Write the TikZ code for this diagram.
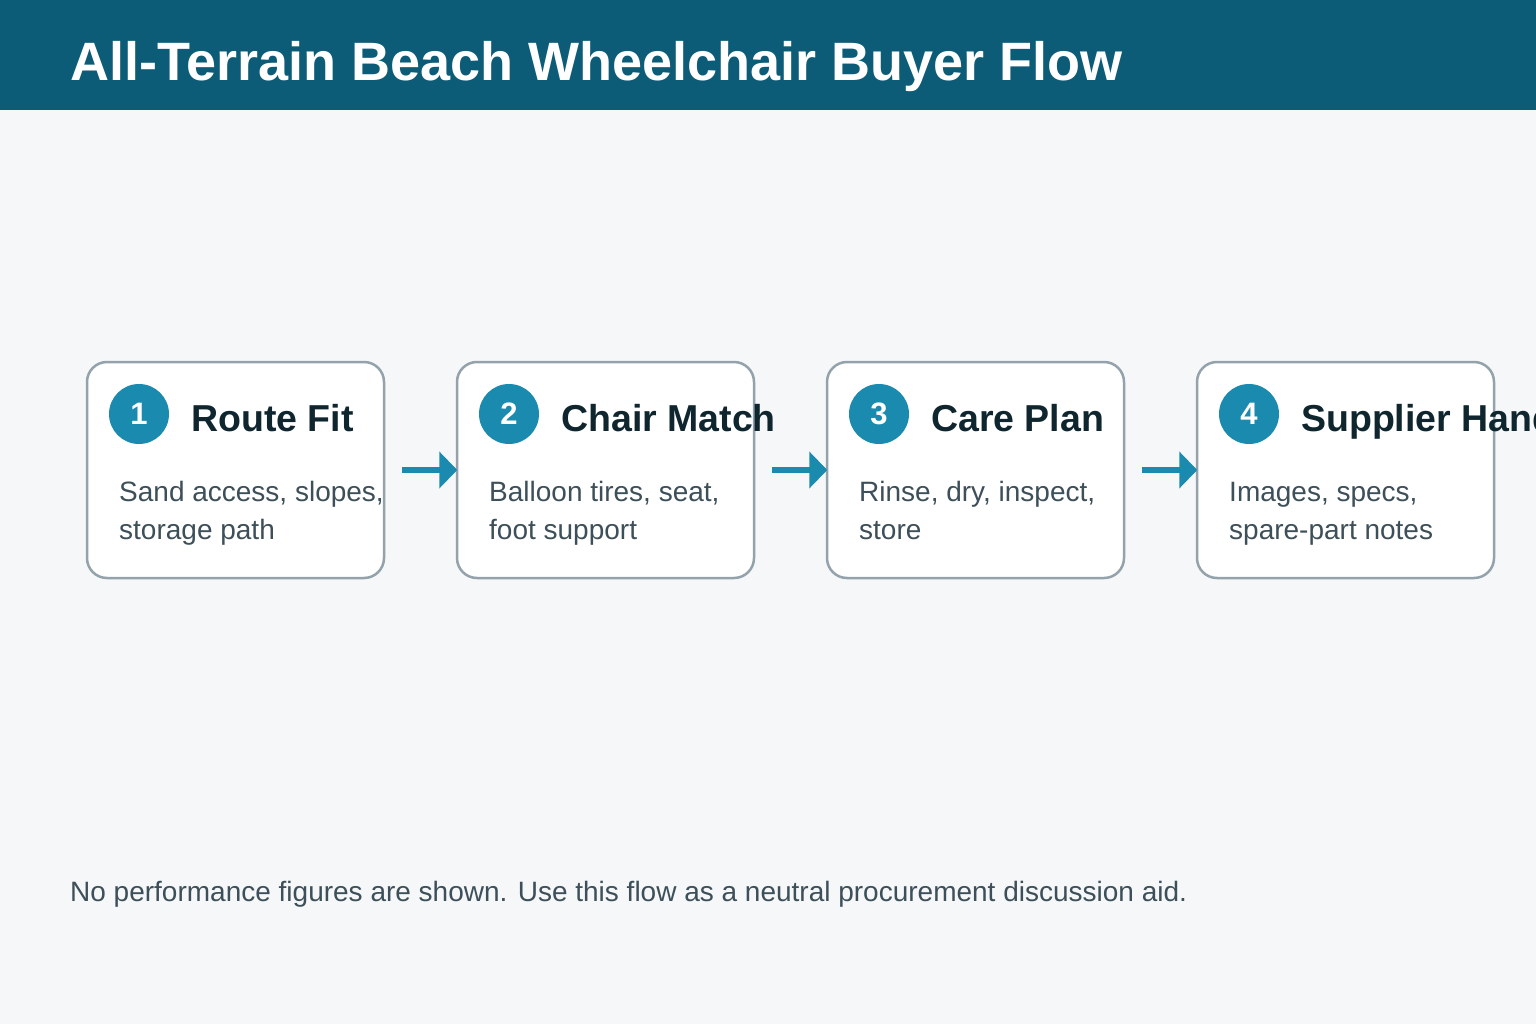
\documentclass[tikz,border=0pt]{standalone}
\usepackage{fontspec}
\setmainfont{Liberation Sans}
\usetikzlibrary{arrows.meta}
\definecolor{hdr}{HTML}{0C5C78}
\definecolor{bg}{HTML}{F5F7F9}
\definecolor{bord}{HTML}{94A3AB}
\definecolor{acc}{HTML}{1A8AAE}
\definecolor{ttl}{HTML}{10262F}
\definecolor{body}{HTML}{3D4F58}
\begin{document}
\begin{tikzpicture}[x=1pt,y=-1pt,
  stepbox/.style={draw=bord,line width=2.5pt,fill=white,rounded corners=20pt,minimum width=297pt,minimum height=216pt,inner sep=0pt},
  numc/.style={circle,fill=acc,minimum size=60pt,inner sep=0pt,text=white,font=\fontsize{31}{31}\selectfont\bfseries},
  stitle/.style={anchor=base west,inner sep=0pt,text=ttl,font=\fontsize{37.5}{40}\selectfont\bfseries},
  sbody/.style={anchor=base west,inner sep=0pt,text=body,font=\fontsize{28}{32}\selectfont},
  flow/.style={draw=acc,line width=6pt,-{Triangle[length=18pt,width=36pt]}}]
\useasboundingbox (0,0) rectangle (1536,1024);
\clip (0,0) rectangle (1536,1024);
\fill[bg] (0,0) rectangle (1536,1024);
\fill[hdr] (0,0) rectangle (1536,110);
\node[anchor=base west,inner sep=0pt,text=white,font=\fontsize{54}{60}\selectfont\bfseries] (title) at (70,81) {All-Terrain Beach Wheelchair Buyer Flow};
\foreach \i/\t/\a/\b in {1/Route Fit/{Sand access, slopes,}/storage path,2/Chair Match/{Balloon tires, seat,}/foot support,3/Care Plan/{Rinse, dry, inspect,}/store,4/Supplier Handoff/{Images, specs,}/spare-part notes}{
  \pgfmathsetmacro{\x}{87+370*(\i-1)}
  \node[stepbox] (b\i) at (\x+148.5,470) {};
  \node[numc] (n\i) at (\x+52,414) {\i};
  \node[stitle] (t\i) at (\x+104,431) {\t};
  \node[sbody] (d\i) at (\x+32,501) {\a};
  \node[sbody] (e\i) at (\x+32,539) {\b};
}
\foreach \i/\j in {1/2,2/3,3/4}{
  \draw[flow] ([xshift=17pt]b\i.east) -- ([xshift=1.5pt]b\j.west);
}
\node[sbody] (foot) at (70,901) {No performance figures are shown. Use this flow as a neutral procurement discussion aid.};
\end{tikzpicture}
\end{document}
